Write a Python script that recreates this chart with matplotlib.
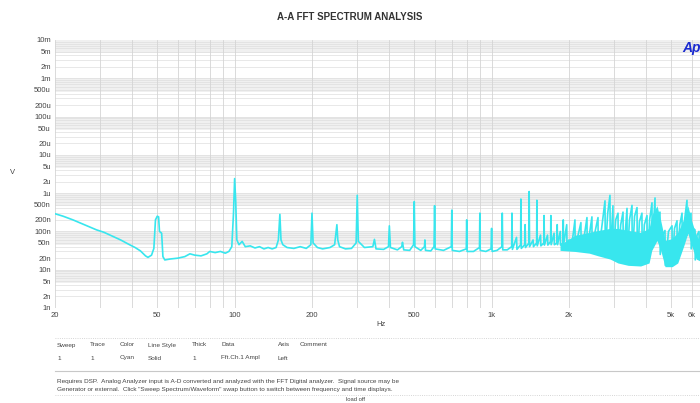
import numpy as np
import matplotlib
matplotlib.use("Agg")
import matplotlib.pyplot as plt
from matplotlib.lines import Line2D

plt.rcParams['font.family'] = ['Liberation Sans', 'DejaVu Sans']

# trace: frequency (Hz) and amplitude (nV)
freq_hz = [20, 21.5, 23.5, 26, 29, 31, 33.5, 36, 39, 41, 43, 45, 46, 47.5, 48.5,
           49.2, 50, 50.6, 51, 52, 52.6, 53.5, 56, 60, 64, 67, 70, 74, 78, 80,
           84, 88, 92, 95, 97.5, 99, 100, 101, 102, 104, 107, 110, 115, 120, 125,
           130, 135, 140, 145, 148, 150, 151.5, 154, 160, 170, 180, 190, 198, 200, 202,
           210, 220, 235, 245, 250, 252, 256, 270, 285, 297, 300, 303, 320, 345, 350,
           355, 380, 397, 400, 404, 430, 447, 450, 455, 480, 497, 500, 503, 530, 548,
           550, 553, 580, 597, 600, 603, 650, 697, 700, 703, 750, 797, 800, 803, 850,
           897, 900, 903, 950, 995, 1000, 1005, 1050, 1097, 1100, 1105, 1150, 1197, 1200, 1205,
           1250, 1255, 1297, 1300, 1305, 1345, 1350, 1355, 1397, 1400, 1405, 1450, 1455, 1497, 1500,
           1505, 1550, 1555, 1597, 1600, 1605, 1650, 1655, 1697, 1700, 1705, 1750, 1755, 1797, 1800,
           1805, 1850, 1855, 1897, 1900, 1905, 1960, 1965, 2000, 2050, 2110, 2115, 2170, 2226, 2230,
           2290, 2350, 2355, 2400, 2457, 2460, 2520, 2594, 2600, 2680, 2762, 2770, 2830, 2888, 2895,
           2966, 2975, 3040, 3104, 3110, 3180, 3246, 3255, 3364, 3370, 3440, 3518, 3525, 3600, 3680,
           3690, 3760, 3846, 3855, 3930, 4024, 4035, 4120, 4208, 4215, 4324, 4330, 4420, 4520, 4530,
           4628, 4728, 4740, 4880, 5036, 5045, 5150, 5266, 5275, 5400, 5508, 5515, 5758, 5765, 5860,
           5970, 5980, 6080, 6186, 6200, 6300, 6412, 6450]
amp_nv = [290, 250, 200, 150, 110, 95, 75, 60, 45, 38, 31, 23, 21, 24, 36,
          200, 250, 240, 100, 90, 22, 18, 19, 20, 22, 26, 24, 23, 26, 30,
          28, 30, 27, 30, 40, 300, 2400, 600, 60, 45, 55, 40, 42, 37, 40,
          35, 38, 35, 38, 60, 280, 60, 45, 38, 36, 40, 36, 45, 300, 50,
          38, 35, 38, 45, 150, 60, 40, 35, 36, 50, 880, 55, 38, 40, 62,
          35, 34, 40, 140, 38, 33, 40, 52, 33, 32, 45, 600, 40, 32, 40,
          60, 32, 31, 40, 470, 35, 32, 40, 360, 32, 30, 35, 200, 30, 30,
          38, 300, 32, 30, 35, 120, 30, 32, 40, 300, 33, 33, 40, 300, 34,
          70, 34, 45, 700, 36, 45, 150, 38, 50, 1100, 40, 60, 40, 50, 650,
          42, 80, 42, 50, 260, 44, 80, 44, 55, 260, 45, 90, 45, 50, 150,
          45, 100, 44, 50, 200, 44, 150, 43, 60, 42, 200, 40, 80, 170, 38,
          70, 230, 35, 80, 240, 32, 90, 230, 28, 120, 630, 26, 300, 880, 24,
          470, 22, 200, 300, 20, 150, 320, 18, 400, 17, 200, 480, 16, 250, 420,
          15, 180, 300, 14, 150, 260, 15, 200, 560, 40, 750, 60, 150, 320, 25,
          80, 106, 13, 100, 140, 14, 120, 190, 20, 150, 300, 60, 650, 80, 200,
          300, 35, 120, 110, 18, 80, 100, 20]

# dense part of the trace above 1.8 kHz, drawn as a filled band (nV)
band_hz = [1846, 2110, 2400, 2600, 2890, 3100, 3400, 3800, 4100, 4200,
           4400, 4550, 4730, 5040, 5300, 5600, 5800, 6000, 6250, 6470]
band_low_nv = [32, 30, 27, 23, 19, 15, 13, 12.5, 15, 32,
               58, 32, 12, 12, 15, 43, 90, 43, 19, 17]
band_high_nv = [45, 79, 94, 106, 120, 120, 106, 94, 120, 260,
                470, 193, 58, 65, 94, 210, 475, 193, 79, 58]

x_ticks = [20, 50, 100, 200, 500, 1000, 2000, 5000, 6000]
x_labels = ['20', '50', '100', '200', '500', '1k', '2k', '5k', '6k']
y_ticks = [1e-9, 2e-9, 5e-9, 1e-8, 2e-8, 5e-8, 1e-7, 2e-7, 5e-7, 1e-6, 2e-6,
           5e-6, 1e-5, 2e-5, 5e-5, 1e-4, 2e-4, 5e-4, 1e-3, 2e-3, 5e-3, 1e-2]
y_labels = ['1n', '2n', '5n', '10n', '20n', '50n', '100n', '200n', '500n', '1u', '2u',
            '5u', '10u', '20u', '50u', '100u', '200u', '500u', '1m', '2m', '5m', '10m']

header = ['Sweep', 'Trace', 'Color', 'Line Style', 'Thick', 'Data', 'Axis', 'Comment']
row = ['1', '1', 'Cyan', 'Solid', '1', 'Fft.Ch.1 Ampl', 'Left', '']
col_x = [57, 90, 120, 148, 192, 221, 278, 300]

cyan = '#38e6ee'
txt = '#444444'

fig = plt.figure(figsize=(7, 4.03), dpi=100)
W, H = 700, 403
ax = fig.add_axes([55 / W, 1 - 308 / H, (W - 55) / W, (308 - 40) / H])

ax.set_xscale('log')
ax.set_yscale('log')
ax.set_xlim(20, 6470)
ax.set_ylim(1e-9, 1e-2)

# shaded bands and grid
for k in range(-9, -1):
    ax.axhspan(10.0 ** k * 0.45, 10.0 ** k, color='#f0f0f0', lw=0, zorder=0)
for k in range(-9, -2):
    for m in range(1, 10):
        ax.axhline(m * 10.0 ** k, color='#dedede', lw=0.5, zorder=1)
for dec in [10, 100, 1000]:
    for m in range(1, 10):
        f = m * dec
        if 20 <= f <= 6470:
            ax.axvline(f, color='#d4d4d4', lw=0.6, zorder=1)

f = np.array(freq_hz)
a = np.array(amp_nv) * 1e-9
ax.fill_between(band_hz, np.array(band_low_nv) * 1e-9, np.array(band_high_nv) * 1e-9,
                color=cyan, lw=0, zorder=2)
ax.plot(f, a, color=cyan, lw=1.2, zorder=3)

ax.set_xticks(x_ticks)
ax.set_xticklabels(x_labels)
ax.set_yticks(y_ticks)
ax.set_yticklabels(y_labels)
ax.minorticks_off()
ax.tick_params(length=0, labelsize=5.5, colors=txt, pad=3)
for s in ax.spines.values():
    s.set_visible(False)

fig.text(350 / W, 1 - 17 / H, 'A-A FFT SPECTRUM ANALYSIS', ha='center', va='center',
         fontsize=7, fontweight='bold', color='#333333')
fig.text(682 / W, 1 - 48 / H, 'Ap', ha='left', va='center', fontsize=10,
         fontweight='bold', fontstyle='italic', color='#1a2ad0')
fig.text(13 / W, 1 - 173 / H, 'V', ha='center', va='center', fontsize=5.5, color=txt)
fig.text(381 / W, 1 - 325 / H, 'Hz', ha='center', va='center', fontsize=5.5, color=txt)

# legend table below the plot
fig.add_artist(Line2D([55 / W, 1], [1 - 338 / H] * 2, color='#c8c8c8', lw=0.6, ls=':'))
fig.add_artist(Line2D([55 / W, 1], [1 - 371 / H] * 2, color='#c8c8c8', lw=0.8))
fig.add_artist(Line2D([55 / W, 1], [1 - 395 / H] * 2, color='#c8c8c8', lw=0.6, ls=':'))
for x, h, r in zip(col_x, header, row):
    fig.text(x / W, 1 - 345 / H, h, ha='left', va='center', fontsize=4.6, color=txt)
    fig.text(x / W, 1 - 358 / H, r, ha='left', va='center', fontsize=4.6, color=txt)
fig.text(57 / W, 1 - 381 / H,
         'Requires DSP.  Analog Analyzer input is A-D converted and analyzed with the FFT Digital analyzer.  '
         'Signal source may be', ha='left', va='center', fontsize=4.6, color=txt)
fig.text(57 / W, 1 - 390 / H,
         'Generator or external.  Click "Sweep Spectrum/Waveform" swap button to switch between frequency '
         'and time displays.', ha='left', va='center', fontsize=4.6, color=txt)
fig.text(355 / W, 1 - 399.5 / H, 'load off', ha='center', va='center', fontsize=4.2, color=txt)

fig.savefig('out.png', dpi=100, facecolor='white')
